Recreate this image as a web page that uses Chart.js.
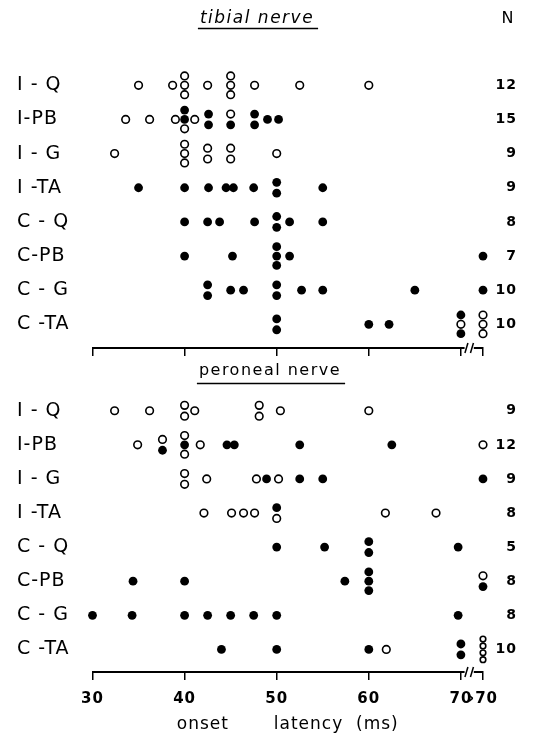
<!DOCTYPE html>
<html><head><meta charset="utf-8">
<script src="https://cdn.jsdelivr.net/npm/chart.js@4/dist/chart.umd.min.js"></script>
<style>
html,body{margin:0;padding:0;background:#fff;}
#wrap{position:relative;width:544px;height:735px;background:#fff;}
.panel{position:absolute;left:0;width:544px;}
</style></head><body>
<div id="wrap">
  <div class="panel" style="top:0;height:356px"><canvas id="tibial"></canvas></div>
  <div class="panel" style="top:360px;height:375px"><canvas id="peroneal"></canvas></div>
</div>
<script>
// ---------- data ----------
const ROWS = ['I - Q','I-PB','I - G','I -TA','C - Q','C-PB','C - G','C -TA'];
const TIBIAL_N = [12,15,9,9,8,7,10,10];
const PERONEAL_N = [9,12,9,8,5,8,8,10];
const X_TICK_VALUES = [30,40,50,60,70,'>70'];
const X_TICK_LABELS = ['30','40','50','60','70','\u203a70'];

// each entry: [onset latency (ms), responses stacked top→bottom: F = filled dot, O = open circle]
const tibial_IQ  = [[35,'O'],[38.7,'O'],[40,'OOO'],[42.5,'O'],[45,'OOO'],[47.6,'O'],[52.5,'O'],[60,'O']];
const tibial_IPB = [[33.6,'O'],[36.2,'O'],[39,'O'],[40,'FFO'],[41.1,'O'],[42.6,'FF'],[45,'OF'],[47.6,'FF'],[49,'F'],[50.2,'F']];
const tibial_IG  = [[32.4,'O'],[40,'OOO'],[42.5,'OO'],[45,'OO'],[50,'O']];
const tibial_ITA = [[35,'F'],[40,'F'],[42.6,'F'],[44.5,'F'],[45.3,'F'],[47.5,'F'],[50,'FF'],[55,'F']];
const tibial_CQ  = [[40,'F'],[42.5,'F'],[43.8,'F'],[47.6,'F'],[50,'FF'],[51.4,'F'],[55,'F']];
const tibial_CPB = [[40,'F'],[45.2,'F'],[50,'FFF'],[51.4,'F'],['>70','F']];
const tibial_CG  = [[42.5,'FF'],[45,'F'],[46.4,'F'],[50,'FF'],[52.7,'F'],[55,'F'],[65,'F'],['>70','F']];
const tibial_CTA = [[50,'FF'],[60,'F'],[62.2,'F'],[70,'FOF'],['>70','OOO']];

const peroneal_IQ  = [[32.4,'O'],[36.2,'O'],[40,'OO'],[41.1,'O'],[48.1,'OO'],[50.4,'O'],[60,'O']];
const peroneal_IPB = [[34.9,'O'],[37.6,'OF'],[40,'OFO'],[41.7,'O'],[44.6,'F'],[45.4,'F'],[52.5,'F'],[62.5,'F'],['>70','O']];
const peroneal_IG  = [[40,'OO'],[42.4,'O'],[47.8,'O'],[48.9,'F'],[50.2,'O'],[52.5,'F'],[55,'F'],['>70','F']];
const peroneal_ITA = [[42.1,'O'],[45.1,'O'],[46.4,'O'],[47.6,'O'],[50,'FO'],[61.8,'O'],[67.3,'O']];
const peroneal_CQ  = [[50,'F'],[55.2,'F'],[60,'FF'],[69.7,'F']];
const peroneal_CPB = [[34.4,'F'],[40,'F'],[57.4,'F'],[60,'FFF'],['>70','OF']];
const peroneal_CG  = [[30,'F'],[34.3,'F'],[40,'F'],[42.5,'F'],[45,'F'],[47.5,'F'],[50,'F'],[69.7,'F']];
const peroneal_CTA = [[44,'F'],[50,'F'],[60,'F'],[61.9,'O'],[70,'FF'],['>70','OOOO']];

const TIBIAL_ROWS = [tibial_IQ, tibial_IPB, tibial_IG, tibial_ITA, tibial_CQ, tibial_CPB, tibial_CG, tibial_CTA];
const PERONEAL_ROWS = [peroneal_IQ, peroneal_IPB, peroneal_IG, peroneal_ITA, peroneal_CQ, peroneal_CPB, peroneal_CG, peroneal_CTA];

// ---------- layout ----------
const GT70_AT = 72.4;   // axis position of the ">70" column
const ROW_PX = 34.71;   // pixel distance between rows
const FONT = '"DejaVu Sans", "Liberation Sans", sans-serif';

function stackOffsets(n){
  if (n === 1) return [0];
  if (n === 2) return [-5.5, 5.5];
  if (n === 3) return [-9.5, 0, 9.5];
  return [-10.5, -3.5, 3.5, 10.5];
}
function buildSets(rows){
  const filled = [], open = [];
  rows.forEach((row, i) => row.forEach(([v, stack]) => {
    const x = v === '>70' ? GT70_AT : v;
    const offs = stackOffsets(stack.length);
    [...stack].forEach((c, k) => {
      const p = {x: x, y: i + offs[k] / ROW_PX, r: stack.length > 3 ? 3 : 4};
      (c === 'F' ? filled : open).push(p);
    });
  }));
  return {filled, open};
}

const spacingPlugin = {
  id: 'spacing',
  beforeDraw(chart){ try { chart.ctx.letterSpacing = '1px'; } catch(e) {} }
};
const axisBreak = {
  id: 'axisBreak',
  afterDraw(chart){
    const {ctx, chartArea, scales} = chart;
    const x = scales.x, y = chartArea.bottom;
    const a = x.getPixelForValue(70.4), b = x.getPixelForValue(71.4);
    ctx.save();
    ctx.fillStyle = '#fff';
    ctx.fillRect(a, y - 3, b - a, 6);
    ctx.strokeStyle = '#000'; ctx.lineWidth = 1.5;
    [70.6, 71.2].forEach(v => {
      const p = x.getPixelForValue(v);
      ctx.beginPath(); ctx.moveTo(p - 1.5, y + 5); ctx.lineTo(p + 1.5, y - 5); ctx.stroke();
    });
    ctx.restore();
  }
};
const panelText = {
  id: 'panelText',
  afterDraw(chart, args, o){
    const ctx = chart.ctx;
    ctx.save();
    try { ctx.letterSpacing = o.spacing; } catch(e) {}
    ctx.fillStyle = '#000'; ctx.strokeStyle = '#000';
    ctx.font = o.font; ctx.textAlign = 'center'; ctx.textBaseline = 'middle';
    ctx.fillText(o.text, o.x, o.y);
    const w = ctx.measureText(o.text).width;
    ctx.lineWidth = 1.6;
    ctx.beginPath(); ctx.moveTo(o.x - w/2 - 2, o.ulY); ctx.lineTo(o.x + w/2 + 4, o.ulY); ctx.stroke();
    if (o.header) {
      ctx.font = '16px ' + FONT; ctx.textAlign = 'right';
      ctx.fillText(o.header, o.headerX, o.y);
    }
    ctx.restore();
  }
};

function makeChart(id, rows, counts, cfg){
  const {filled, open} = buildSets(rows);
  const yMin = -cfg.firstRowPx / ROW_PX;
  const yMax = cfg.areaH / ROW_PX + yMin;
  return new Chart(document.getElementById(id), {
    type: 'scatter',
    data: {datasets: [
      {data: open, order: 0, clip: false, pointStyle: 'circle', pointRadius: c => c.raw.r - 0.2,
       pointBackgroundColor: '#fff', pointBorderColor: '#000', pointBorderWidth: 1.6},
      {data: filled, order: 1, clip: false, pointStyle: 'circle', pointRadius: c => c.raw.r + 0.4,
       pointBackgroundColor: '#000', pointBorderColor: '#000', pointBorderWidth: 0}
    ]},
    options: {
      responsive: true, maintainAspectRatio: false, animation: false, devicePixelRatio: 1,
      layout: {padding: {left: 17, right: 27, top: 0, bottom: 0}},
      events: [],
      plugins: {legend: {display: false}, tooltip: {enabled: false}, panelText: cfg.text},
      scales: {
        x: {
          type: 'linear', min: 30, max: GT70_AT,
          afterBuildTicks: s => { s.ticks = X_TICK_VALUES.map(v => ({value: v === '>70' ? GT70_AT : v})); },
          afterFit: s => { s.height = cfg.xHeight; s.paddingLeft = 0; s.paddingRight = 0; },
          ticks: {display: cfg.showLabels, autoSkip: false, maxRotation: 0, padding: 10, color: '#000',
                  font: {family: FONT, size: 15, weight: 'bold'},
                  callback: (v, i) => X_TICK_LABELS[i]},
          grid: {display: true, drawOnChartArea: false, drawTicks: true, tickLength: 8, color: '#000', lineWidth: 1.5},
          border: {display: true, color: '#000', width: 2},
          title: {display: cfg.showLabels, text: 'onset\u00a0\u00a0\u00a0\u00a0\u00a0\u00a0\u00a0latency\u00a0\u00a0(ms)',
                  color: '#000', font: {family: FONT, size: 17}, padding: {top: 0, bottom: 0}}
        },
        y: {
          type: 'linear', position: 'left', reverse: true, min: yMin, max: yMax,
          afterBuildTicks: s => { s.ticks = ROWS.map((_, i) => ({value: i})); },
          afterFit: s => { s.width = 75.5; s.paddingTop = 0; s.paddingBottom = 0; },
          ticks: {autoSkip: false, crossAlign: 'far', padding: 0, color: '#000',
                  font: {family: FONT, size: 19}, callback: v => ROWS[v]},
          grid: {display: false}, border: {display: false}
        },
        yN: {
          type: 'linear', position: 'right', reverse: true, min: yMin, max: yMax, display: true,
          afterBuildTicks: s => { s.ticks = counts.map((_, i) => ({value: i})); },
          afterFit: s => { s.width = 34; s.paddingTop = 0; s.paddingBottom = 0; },
          ticks: {autoSkip: false, crossAlign: 'far', padding: 0, color: '#000',
                  font: {family: FONT, size: 14, weight: 'bold'}, callback: v => String(counts[v])},
          grid: {display: false}, border: {display: false}
        }
      }
    },
    plugins: [spacingPlugin, panelText, axisBreak]
  });
}

makeChart('tibial', TIBIAL_ROWS, TIBIAL_N, {
  firstRowPx: 81, areaH: 348, xHeight: 8, showLabels: false,
  text: {text: 'tibial nerve', font: 'italic 17px ' + FONT, spacing: '1.5px', x: 257, y: 19, ulY: 28.5,
         header: 'N', headerX: 515}
});
makeChart('peroneal', PERONEAL_ROWS, PERONEAL_N, {
  firstRowPx: 46, areaH: 312, xHeight: 63, showLabels: true,
  text: {text: 'peroneal nerve', font: '16px ' + FONT, spacing: '1.5px', x: 270, y: 11, ulY: 23.5}
});
</script>
</body></html>
